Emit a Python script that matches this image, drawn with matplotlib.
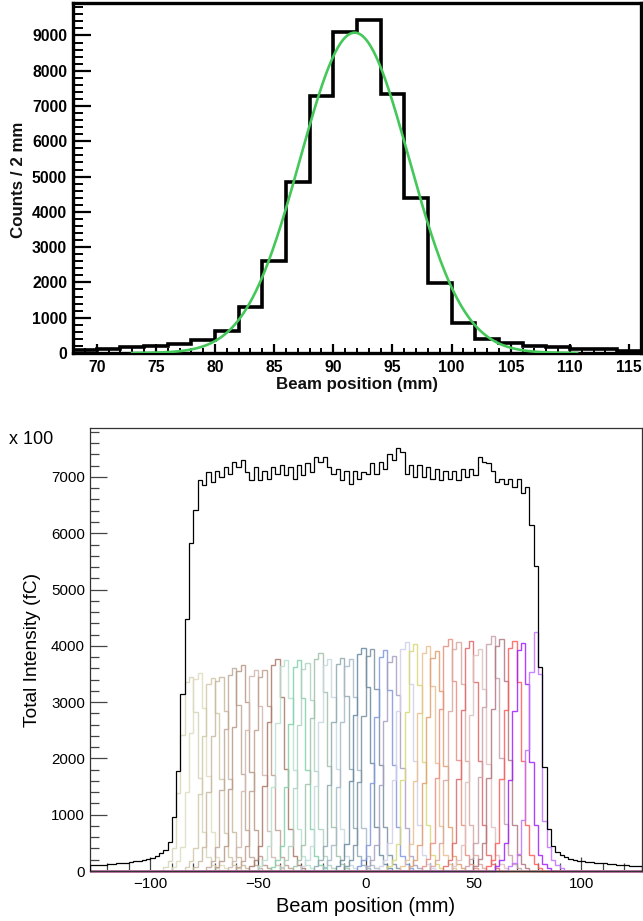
import numpy as np
import matplotlib
matplotlib.use("Agg")
import matplotlib.pyplot as plt
from matplotlib.ticker import MultipleLocator

plt.rcParams["font.family"] = ["Liberation Sans", "DejaVu Sans"]

# ---- top panel: single strip beam profile (2 mm bins, 68..116 mm)
profile_edges = np.arange(68, 118, 2)
profile_counts = [80, 110, 160, 200, 250, 360, 620, 1290, 2600, 4850, 7280, 9110,
                  9440, 7330, 4380, 1990, 840, 400, 290, 210, 160, 120, 110, 70]

# gaussian fit
fit_amp = 9080
fit_mean = 91.8
fit_sigma = 4.6
fit_range = (73.0, 110.6)

# ---- bottom panel: total intensity (x100 fC), 2 mm bins from -128 to 128
total_edges = np.arange(-128, 130, 2)
total_counts = [
    100, 105, 110, 115, 120, 125, 135, 140, 150, 160, 170, 180, 190, 205, 225,
    266, 313, 373, 520, 965, 1775, 3150,
    4470, 5830, 6420,
    6950, 6860, 7090, 6910, 7110, 7000, 7180, 7060, 7270, 7180, 7300, 7090,
    6950, 7180, 6950, 7110, 6970, 7180, 7060, 7210, 7040, 7180, 6970, 7210,
    7040, 7240, 7090, 7360, 7270, 7360, 7180, 7060, 7150, 6950, 7110, 6880,
    7110, 6970, 7090, 7060, 7240, 7060, 7270, 7150, 7410, 7300, 7510, 7450,
    7060, 7210, 7000, 7210, 7000, 7180, 6970, 7150, 6950, 7110, 6970, 7110,
    6950, 7150, 7000, 7150, 7040, 7360, 7270, 7240, 7110, 6910, 6970, 6880,
    6970, 6825, 6970, 6710, 6825,
    6145, 5415, 3630, 1853, 740,
    450, 343, 284, 240, 210, 195, 180, 175, 165, 160, 150, 140, 135, 125, 120,
    115, 105, 100, 90, 85, 80,
]

# per-strip histograms: left edge of the first listed bin, then 13 bins
strip_start = [-94, -90, -84, -80, -74, -70, -64, -60, -54, -50, -44, -40, -34,
               -30, -24, -20, -14, -10, -4, 0, 6, 10, 16, 20, 26, 30, 36, 40,
               46, 50, 56, 60, 66]
strip_counts = [
    [70, 170, 410, 1380, 2420, 3350, 3450, 2830, 1660, 690, 240, 100, 50],
    [70, 180, 420, 1410, 2460, 3410, 3520, 2890, 1690, 700, 250, 110, 50],
    [70, 170, 410, 1370, 2390, 3320, 3420, 2800, 1640, 680, 240, 100, 50],
    [70, 170, 420, 1400, 2400, 3380, 3450, 2850, 1640, 700, 240, 100, 50],
    [70, 180, 430, 1440, 2520, 3490, 3600, 2950, 1730, 720, 250, 110, 50],
    [70, 180, 440, 1460, 2560, 3550, 3660, 3000, 1760, 730, 260, 110, 50],
    [70, 180, 430, 1430, 2500, 3460, 3570, 2930, 1710, 710, 250, 110, 50],
    [70, 170, 440, 1420, 2510, 3450, 3570, 2940, 1700, 720, 250, 100, 50],
    [80, 190, 450, 1510, 2640, 3660, 3770, 3090, 1810, 750, 260, 110, 60],
    [80, 190, 450, 1500, 2630, 3640, 3750, 3080, 1800, 750, 260, 110, 60],
    [70, 190, 450, 1500, 2620, 3630, 3740, 3070, 1800, 750, 260, 110, 60],
    [70, 190, 440, 1480, 2590, 3590, 3700, 3030, 1780, 740, 260, 110, 60],
    [80, 190, 470, 1550, 2720, 3760, 3880, 3180, 1860, 780, 270, 120, 60],
    [80, 190, 450, 1510, 2640, 3660, 3770, 3090, 1810, 750, 260, 110, 60],
    [80, 190, 450, 1520, 2650, 3680, 3790, 3110, 1820, 760, 270, 110, 60],
    [70, 190, 460, 1500, 2650, 3650, 3770, 3100, 1800, 760, 260, 110, 60],
    [80, 200, 480, 1590, 2780, 3850, 3970, 3260, 1910, 790, 280, 120, 60],
    [80, 200, 470, 1580, 2760, 3820, 3940, 3230, 1890, 790, 280, 120, 60],
    [80, 200, 470, 1570, 2740, 3800, 3920, 3210, 1880, 780, 270, 120, 60],
    [80, 190, 460, 1530, 2670, 3710, 3820, 3130, 1830, 760, 270, 110, 60],
    [80, 200, 490, 1620, 2840, 3940, 4060, 3330, 1950, 810, 280, 120, 60],
    [80, 200, 480, 1610, 2820, 3910, 4030, 3300, 1930, 810, 280, 120, 60],
    [80, 200, 480, 1600, 2800, 3880, 4000, 3280, 1920, 800, 280, 120, 60],
    [80, 200, 470, 1560, 2730, 3780, 3900, 3200, 1870, 780, 270, 120, 60],
    [80, 210, 490, 1650, 2880, 4000, 4120, 3380, 1980, 820, 290, 120, 60],
    [80, 200, 490, 1620, 2840, 3940, 4060, 3330, 1950, 810, 280, 120, 60],
    [80, 200, 490, 1630, 2860, 3960, 4080, 3350, 1960, 820, 290, 120, 60],
    [80, 200, 470, 1580, 2770, 3830, 3950, 3240, 1900, 790, 280, 120, 60],
    [80, 210, 500, 1670, 2920, 4040, 4170, 3420, 2000, 830, 290, 130, 60],
    [80, 210, 490, 1650, 2880, 4000, 4120, 3380, 1980, 820, 290, 120, 60],
    [80, 200, 490, 1640, 2860, 3970, 4090, 3350, 1960, 820, 290, 120, 60],
    [80, 200, 490, 1620, 2840, 3930, 4050, 3320, 1940, 810, 280, 120, 60],
    [80, 140, 300, 900, 2150, 3540, 4250, 3500, 880, 430, 200, 100, 50],
]
strip_colors = [
    "#d8d4b8", "#e0dcc0", "#d0c8a8", "#c8b8a0", "#c0a898", "#b89888",
    "#d0b8b0", "#c0a090", "#a87868", "#b8e0d0", "#80d0a8", "#b0d0c0",
    "#a0c0a8", "#c8d8e0", "#90a8b0", "#a8b8c8", "#6888a0", "#7890a0",
    "#8098e0", "#a8a0c0", "#d0d0e8", "#d8d878", "#e8c090", "#e0a070",
    "#e89080", "#d8a8a0", "#e06868", "#e0c0c0", "#c8a0a8", "#b07880",
    "#ff5a5a", "#a020ff", "#c070ff",
]

W, H = 643, 921
fig = plt.figure(figsize=(W / 100, H / 100), dpi=100)


def frac(x0, y0, x1, y1):
    # pixel box -> figure fraction [left, bottom, width, height]
    return [x0 / W, 1 - y1 / H, (x1 - x0) / W, (y1 - y0) / H]


# ------------------------------------------------------------ top panel
ax1 = fig.add_axes(frac(73, 3, 641, 353))
ax1.stairs(profile_counts, profile_edges, color="black", linewidth=2.6, zorder=3)
xf = np.linspace(fit_range[0], fit_range[1], 300)
ax1.plot(xf, fit_amp * np.exp(-0.5 * ((xf - fit_mean) / fit_sigma) ** 2),
         color="#45c85a", linewidth=1.9, zorder=4)

ax1.set_xlim(68, 116)
ax1.set_ylim(0, 9920)
ax1.xaxis.set_major_locator(MultipleLocator(5))
ax1.xaxis.set_minor_locator(MultipleLocator(1))
ax1.yaxis.set_major_locator(MultipleLocator(1000))
ax1.yaxis.set_minor_locator(MultipleLocator(200))
ax1.tick_params(axis="y", which="major", direction="in", length=13, width=1.6,
                pad=4.3, labelsize=11.3, right=False)
ax1.tick_params(axis="y", which="minor", direction="in", length=7, width=1.4,
                right=False)
ax1.tick_params(axis="x", which="major", direction="in", length=6.5, width=1.6,
                pad=5, labelsize=11.3, top=False)
ax1.tick_params(axis="x", which="minor", direction="in", length=3.5, width=1.4,
                top=False)
for lab in ax1.get_xticklabels() + ax1.get_yticklabels():
    lab.set_fontweight("bold")
for sp in ax1.spines.values():
    sp.set_linewidth(2.4)
    sp.set_color("black")

fig.text(357 / W, 1 - 384 / H, "Beam position (mm)", ha="center", va="center",
         fontsize=12.2, fontweight="bold", color="#111111")
fig.text(18.5 / W, 1 - 180 / H, "Counts / 2 mm", ha="center", va="center",
         rotation=90, fontsize=12.2, fontweight="bold", color="#111111")

# --------------------------------------------------------- bottom panel
ax2 = fig.add_axes(frac(90, 428, 641.5, 871))
for start, counts, col in zip(strip_start, strip_counts, strip_colors):
    full = np.zeros(len(total_counts))
    i0 = (start - total_edges[0]) // 2
    full[i0:i0 + len(counts)] = counts
    ax2.stairs(full, total_edges, color=col, linewidth=1.0, alpha=0.85,
               zorder=2, clip_on=False)
ax2.stairs(total_counts, total_edges, color="black", linewidth=0.9, zorder=3)

ax2.set_xlim(-128, 128)
ax2.set_ylim(0, 7870)
ax2.xaxis.set_major_locator(MultipleLocator(50))
ax2.xaxis.set_minor_locator(MultipleLocator(10))
ax2.yaxis.set_major_locator(MultipleLocator(1000))
ax2.yaxis.set_minor_locator(MultipleLocator(200))
ax2.tick_params(axis="y", which="major", direction="in", length=12, width=0.9,
                pad=3.6, labelsize=10.9, right=False, color="#444444")
ax2.tick_params(axis="y", which="minor", direction="in", length=6.5, width=0.9,
                right=False, color="#444444")
ax2.tick_params(axis="x", which="major", direction="in", length=10, width=0.9,
                pad=4.3, labelsize=10.9, top=False, color="#444444")
ax2.tick_params(axis="x", which="minor", direction="in", length=5.5, width=0.9,
                top=False, color="#444444")
for sp in ax2.spines.values():
    sp.set_linewidth(0.9)
    sp.set_color("#333333")

fig.text(366 / W, 1 - 906 / H, "Beam position (mm)", ha="center", va="center",
         fontsize=14.4)
fig.text(33 / W, 1 - 650 / H, "Total Intensity (fC)", ha="center", va="center",
         rotation=90, fontsize=13.8)
fig.text(9 / W, 1 - 439 / H, "x 100", ha="left", va="center", fontsize=13)

fig.savefig("out.png", dpi=100)
